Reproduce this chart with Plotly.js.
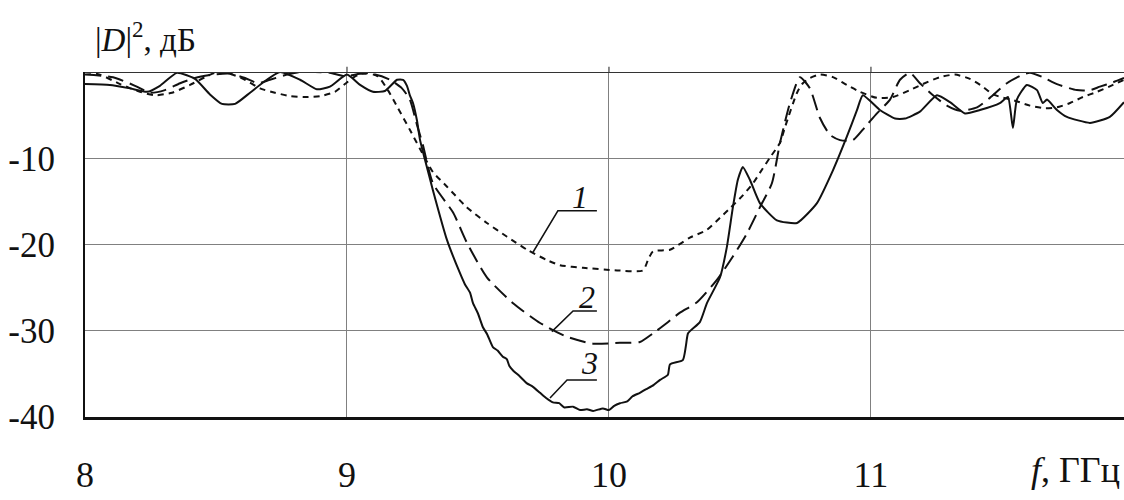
<!DOCTYPE html>
<html>
<head>
<meta charset="utf-8">
<script src="https://cdn.plot.ly/plotly-3.0.1.min.js"></script>
<style>html,body{margin:0;padding:0;background:#fff;}#chart{width:1124px;height:500px;}</style>
</head>
<body>
<div id="chart"></div>
<script>
// Curve 1 (short dash)
const f1 = [8.000,8.057,8.134,8.210,8.267,8.332,8.401,8.458,8.496,8.553,8.611,8.668,8.725,8.782,8.840,8.897,8.954,8.992,9.031,9.069,9.118,9.156,9.195,9.240,9.298,9.328,9.382,9.458,9.534,9.611,9.687,9.763,9.813,9.901,10.031,10.130,10.149,10.168,10.233,10.309,10.374,10.424,10.462,10.511,10.550,10.576,10.615,10.653,10.672,10.718,10.740,10.767,10.805,10.855,10.908,10.958,11.023,11.084,11.149,11.198,11.263,11.321,11.378,11.427,11.466,11.557,11.607,11.664,11.710,11.760,11.809,11.863,11.924,11.966];
const d1 = [0,-0.3,-1.4,-2.3,-2.7,-2.4,-1.5,-0.6,-0.1,-0.2,-0.9,-1.9,-2.4,-2.8,-2.9,-2.8,-2.3,-1.4,-0.5,-0.1,-0.5,-2.1,-4.2,-6.7,-10.0,-11.6,-13.3,-15.7,-17.5,-19.1,-20.6,-21.8,-22.4,-22.7,-23.0,-23.0,-21.8,-20.8,-20.6,-19.2,-18.3,-16.9,-15.8,-14.3,-12.9,-11.7,-9.9,-8.2,-6.4,-2.4,-1.3,-0.7,-0.3,-0.6,-1.5,-2.3,-3.0,-2.9,-2.1,-1.4,-0.6,-0.3,-0.8,-1.7,-2.6,-3.4,-3.9,-4.2,-4.1,-3.6,-2.9,-2.3,-1.5,-0.9];

// Curve 2 (long dash)
const f2 = [8.000,8.107,8.191,8.248,8.305,8.363,8.420,8.489,8.553,8.611,8.660,8.706,8.771,8.821,8.878,8.935,8.992,9.050,9.107,9.164,9.210,9.240,9.267,9.290,9.328,9.405,9.458,9.534,9.634,9.737,9.840,9.939,10.042,10.118,10.168,10.221,10.271,10.336,10.412,10.473,10.527,10.576,10.622,10.653,10.691,10.729,10.767,10.805,10.844,10.882,10.931,10.977,11.023,11.073,11.111,11.149,11.187,11.237,11.290,11.340,11.405,11.454,11.519,11.580,11.607,11.656,11.710,11.786,11.836,11.874,11.924,11.966];
const d2 = [-0.3,-0.6,-1.6,-2.4,-2.1,-1.3,-0.7,-0.3,-0.2,-0.7,-1.3,-0.9,-0.3,0,0,-0.1,-0.5,-0.2,-0.3,-0.9,-1.9,-3.2,-6.1,-8.5,-12.9,-16.3,-19.8,-23.8,-26.8,-29.1,-30.7,-31.5,-31.4,-31.3,-30.3,-29.1,-27.9,-26.7,-24.1,-21.4,-18.7,-15.7,-12.9,-8.2,-3.6,-0.6,-1.9,-5.3,-7.3,-7.9,-7.9,-6.4,-4.8,-3.2,-0.9,-0.1,-1.3,-2.7,-3.9,-4.5,-4.1,-3.0,-1.3,-0.3,-0.1,-0.6,-1.4,-2.1,-2.1,-1.7,-1.2,-0.7];

// Curve 3 (solid)
const f3 = [8.000,8.095,8.172,8.237,8.286,8.351,8.420,8.477,8.523,8.573,8.630,8.676,8.744,8.821,8.885,8.935,9.000,9.050,9.099,9.145,9.191,9.214,9.229,9.240,9.252,9.267,9.279,9.298,9.328,9.382,9.431,9.450,9.470,9.481,9.500,9.519,9.535,9.557,9.575,9.595,9.610,9.620,9.634,9.660,9.687,9.710,9.737,9.760,9.786,9.810,9.830,9.863,9.890,9.916,9.940,9.977,10.000,10.020,10.042,10.070,10.090,10.118,10.140,10.170,10.195,10.225,10.233,10.282,10.294,10.302,10.347,10.374,10.424,10.450,10.473,10.492,10.511,10.538,10.576,10.641,10.718,10.794,10.855,10.908,10.947,10.969,11.034,11.092,11.130,11.187,11.252,11.302,11.359,11.416,11.492,11.523,11.542,11.557,11.595,11.634,11.656,11.672,11.710,11.748,11.836,11.912,11.966];
const d3 = [-1.4,-1.5,-1.9,-2.3,-1.6,-0.1,-0.8,-2.6,-3.7,-3.7,-2.4,-1.3,0,-0.9,-2.0,-1.7,-0.3,-1.5,-2.3,-2.2,-0.9,-0.9,-1.6,-2.7,-3.6,-5.6,-7.9,-10.2,-13.7,-19.5,-23.3,-24.6,-25.6,-26.8,-28.0,-29.6,-30.4,-31.9,-32.3,-33.0,-33.3,-34.1,-34.6,-35.3,-36.1,-36.5,-37.2,-37.8,-38.3,-38.4,-38.9,-38.8,-39.2,-39.1,-39.3,-39.0,-39.2,-38.7,-38.4,-38.2,-37.6,-37.2,-36.8,-36.3,-35.7,-35.1,-33.9,-33.4,-31.7,-30.3,-29.0,-26.8,-23.8,-20.3,-15.7,-12.5,-11.0,-12.5,-15.2,-17.2,-17.5,-15.2,-11.4,-7.5,-4.4,-2.7,-4.4,-5.4,-5.4,-4.6,-2.7,-3.5,-4.8,-4.4,-3.6,-2.9,-6.5,-3.2,-1.5,-2.1,-3.6,-3.2,-4.4,-5.2,-5.9,-5.2,-3.5];

const xTicks = [8, 9, 10, 11];
const xTickText = ['8', '9', '10', '11'];
const yTicks = [-40, -30, -20, -10];
const yTickText = ['-40', '-30', '-20', '-10'];

// curve labels and their leader lines (f, dB)
const labelText = ['1', '2', '3'];
const labelF = [9.889, 9.916, 9.927];
const labelD = [-14.5, -26.1, -33.7];
const leaderF = [[9.710, 9.805, 9.954], [9.782, 9.863, 9.954], [9.775, 9.840, 9.954]];
const leaderD = [[-20.9, -16.1, -16.1], [-30.1, -27.7, -27.7], [-37.8, -35.7, -35.7]];

const FONT = 'Liberation Serif';
const INK = '#111';

const traces = [
  {x: f1, y: d1, mode: 'lines', line: {color: INK, width: 2, dash: '6px,5px', shape: 'spline', smoothing: 0.6}, hoverinfo: 'skip'},
  {x: f2, y: d2, mode: 'lines', line: {color: INK, width: 2, dash: '16px,7px', shape: 'spline', smoothing: 0.6}, hoverinfo: 'skip'},
  {x: f3, y: d3, mode: 'lines', line: {color: INK, width: 2, shape: 'spline', smoothing: 0.5}, hoverinfo: 'skip'}
];

const shapes = [
  {type: 'line', xref: 'paper', yref: 'y', x0: 0, x1: 1, y0: 0, y1: 0, line: {color: '#333', width: 2}}
];
xTicks.slice(1).forEach(v => shapes.push({type: 'line', xref: 'x', yref: 'paper', x0: v, x1: v, y0: 1, y1: 1.015, line: {color: '#666', width: 1.5}}));
leaderF.forEach((fs, i) => {
  let p = 'M ' + fs[0] + ',' + leaderD[i][0];
  for (let k = 1; k < fs.length; k++) p += ' L ' + fs[k] + ',' + leaderD[i][k];
  shapes.push({type: 'path', xref: 'x', yref: 'y', path: p, line: {color: INK, width: 1.5}});
});

const annotations = labelText.map((t, i) => ({
  x: labelF[i], y: labelD[i], xref: 'x', yref: 'y', text: '<i>' + t + '</i>', showarrow: false,
  font: {family: FONT, size: 32, color: INK}, xanchor: 'center', yanchor: 'middle'
}));
annotations.push({
  xref: 'paper', yref: 'paper', x: 0.008, y: 1.10, xanchor: 'left', yanchor: 'middle', showarrow: false,
  text: '|<i>D</i>|<sup>2</sup>, дБ', font: {family: FONT, size: 33, color: INK}
});
annotations.push({
  xref: 'paper', yref: 'paper', x: 0.998, y: -0.155, xanchor: 'right', yanchor: 'middle', showarrow: false,
  text: '<i>f</i>, ГГц', font: {family: FONT, size: 36, color: INK}
});

const layout = {
  width: 1124, height: 500,
  margin: {l: 85, r: 0, t: 72, b: 83},
  paper_bgcolor: '#fff', plot_bgcolor: '#fff',
  showlegend: false,
  font: {family: FONT, color: INK},
  xaxis: {
    range: [8, 11.966], tickmode: 'array', tickvals: xTicks, ticktext: xTickText,
    showgrid: true, gridcolor: '#808080', gridwidth: 1, zeroline: false,
    showline: true, linecolor: INK, linewidth: 2.5,
    ticks: 'outside', ticklen: 24, tickcolor: 'rgba(0,0,0,0)',
    tickfont: {family: FONT, size: 36, color: INK}
  },
  yaxis: {
    range: [-40, 0], tickmode: 'array', tickvals: yTicks, ticktext: yTickText,
    showgrid: true, gridcolor: '#808080', gridwidth: 1, zeroline: false,
    showline: true, linecolor: INK, linewidth: 2,
    ticks: 'outside', ticklen: 21, tickcolor: 'rgba(0,0,0,0)',
    tickfont: {family: FONT, size: 35, color: INK}
  },
  shapes: shapes,
  annotations: annotations
};

Plotly.newPlot('chart', traces, layout, {staticPlot: true, displayModeBar: false});
</script>
</body>
</html>
